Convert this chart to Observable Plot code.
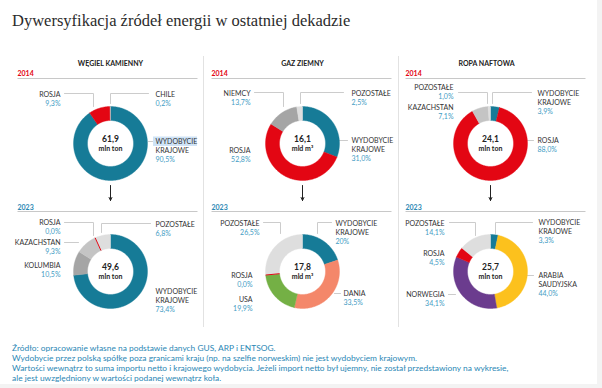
<!DOCTYPE html>
<html><head><meta charset="utf-8">
<script src="https://cdn.jsdelivr.net/npm/d3@7"></script>
<script src="https://cdn.jsdelivr.net/npm/@observablehq/plot@0.6"></script>
<style>
html,body{margin:0;padding:0;background:#f3f3f3;}
#page{position:relative;width:597px;height:384px;background:#fff;overflow:hidden;font-family:Lato,sans-serif;}
#title{position:absolute;left:12px;top:11px;font-family:"Liberation Serif",serif;font-size:16.5px;line-height:20px;color:#2b2b2b;white-space:nowrap;}
#chart{position:absolute;left:0;top:50px;}
#footer{position:absolute;left:12px;top:343px;font-size:8.4px;line-height:10px;color:#2a87b5;white-space:nowrap;}
</style></head><body>
<div id="page"><div id="title"></div><div id="chart"></div><div id="footer"></div></div>
<script>
// ---------- DATA ----------
const titleText = "Dywersyfikacja źródeł energii w ostatniej dekadzie";
const sections = ["WĘGIEL KAMIENNY", "GAZ ZIEMNY", "ROPA NAFTOWA"];
const years = ["2014", "2023"];
const totals2014 = [61.9, 16.1, 24.1];
const totals2023 = [49.6, 17.8, 25.7];
const units = ["mln ton", "mld m³", "mln ton"];

const coal2014Sources = ["WYDOBYCIE KRAJOWE", "ROSJA", "CHILE"];
const coal2014Shares = [90.5, 9.3, 0.2];
const coal2023Sources = ["WYDOBYCIE KRAJOWE", "KOLUMBIA", "KAZACHSTAN", "ROSJA", "POZOSTAŁE"];
const coal2023Shares = [73.4, 10.5, 9.3, 0.0, 6.8];

const gas2014Sources = ["WYDOBYCIE KRAJOWE", "ROSJA", "NIEMCY", "POZOSTAŁE"];
const gas2014Shares = [31.0, 52.8, 13.7, 2.5];
const gas2023Sources = ["WYDOBYCIE KRAJOWE", "DANIA", "USA", "ROSJA", "POZOSTAŁE"];
const gas2023Shares = [20, 33.5, 19.9, 0.0, 26.5];
const gas2023Decimals = [0, 1, 1, 1, 1];

const oil2014Sources = ["WYDOBYCIE KRAJOWE", "ROSJA", "KAZACHSTAN", "POZOSTAŁE"];
const oil2014Shares = [3.9, 88.0, 7.1, 1.0];
const oil2023Sources = ["WYDOBYCIE KRAJOWE", "ARABIA SAUDYJSKA", "NORWEGIA", "ROSJA", "POZOSTAŁE"];
const oil2023Shares = [3.3, 44.0, 34.1, 4.5, 14.1];

const footnotes = [
  "Źródło: opracowanie własne na podstawie danych GUS, ARP i ENTSOG.",
  "Wydobycie przez polską spółkę poza granicami kraju (np. na szelfie norweskim) nie jest wydobyciem krajowym.",
  "Wartości wewnątrz to suma importu netto i krajowego wydobycia. Jeżeli import netto był ujemny, nie został przedstawiony na wykresie,",
  "ale jest uwzględniony w wartości podanej wewnątrz koła."
];

// ---------- STYLE / LAYOUT ----------
const colors = {
  "WYDOBYCIE KRAJOWE": "#167b97", "ROSJA": "#e30613", "CHILE": "#c4c4c4",
  "KOLUMBIA": "#a5a5a5", "KAZACHSTAN": "#c4c4c4", "POZOSTAŁE": "#dedede",
  "NIEMCY": "#a5a5a5", "DANIA": "#f4876a", "USA": "#74b045",
  "ARABIA SAUDYJSKA": "#fcc11d", "NORWEGIA": "#6b3c8e"
};
const W = 597;
const panelLeft = [17, 211, 405];
const panelWidth = 180;
const headerX = [110, 302, 486];
const centerX = [110, 302, 490];
const centerY = [143, 271];
const yearY = [73, 207];
const yearRuleY = [78, 211];
const yearColors = ["#e30613", "#2b88b4"];
const R = 37, R0 = 23;
const pctColor = "#3f9cc4", inkColor = "#333333", leaderColor = "#cccccc";
const lineGap = 9.3;

// label layout: [anchor, dx, dy, leader points relative to center]
const labelLayout = {
  "0-0": {
    "WYDOBYCIE KRAJOWE": ["start", 45, -2, [[38, -2], [42, -2]]],
    "ROSJA": ["end", -50, -49, [[-46, -50], [-17, -50], [-17, -37]]],
    "CHILE": ["start", 45, -49, [[38, -50], [0, -50], [0, -40]]]
  },
  "0-1": {
    "WYDOBYCIE KRAJOWE": ["start", 45, 20, null],
    "KOLUMBIA": ["end", -50, -6, null],
    "KAZACHSTAN": ["end", -50, -29, [[-46, -29], [-32, -29]]],
    "ROSJA": ["end", -50, -49, [[-46, -49], [-17, -49], [-17, -36]]],
    "POZOSTAŁE": ["start", 45, -47, [[40, -48], [-9, -48], [-9, -39]]]
  },
  "1-0": {
    "WYDOBYCIE KRAJOWE": ["start", 49, -3, [[37, -3], [45, -3]]],
    "ROSJA": ["end", -52, 7, null],
    "NIEMCY": ["end", -52, -50, [[-48, -51], [-19, -51], [-19, -37]]],
    "POZOSTAŁE": ["start", 49, -50, [[41, -51], [-2, -51], [-2, -40]]]
  },
  "1-1": {
    "WYDOBYCIE KRAJOWE": ["start", 33, -48, [[29, -49], [15, -49], [15, -38]]],
    "DANIA": ["start", 41, 22, [[32, 22], [38, 22]]],
    "USA": ["end", -50, 28, null],
    "ROSJA": ["end", -50, 4, null],
    "POZOSTAŁE": ["end", -43, -48, [[-39, -49], [-22, -49], [-22, -38]]]
  },
  "2-0": {
    "WYDOBYCIE KRAJOWE": ["start", 47, -50, [[41, -51], [2, -51], [2, -40]]],
    "ROSJA": ["start", 47, -3, [[37, -3], [43, -3]]],
    "KAZACHSTAN": ["end", -37, -36, null],
    "POZOSTAŁE": ["end", -37, -56, [[-32, -51], [-3, -51], [-3, -40]]]
  },
  "2-1": {
    "WYDOBYCIE KRAJOWE": ["start", 48, -49, [[42, -49], [5, -49], [5, -38]]],
    "ARABIA SAUDYJSKA": ["start", 48, 4, [[37, 4], [43, 4]]],
    "NORWEGIA": ["end", -46, 23, [[-42, 23], [-35, 23]]],
    "ROSJA": ["end", -46, -18, null],
    "POZOSTAŁE": ["end", -46, -48, [[-41, -49], [-15, -49], [-15, -36]]]
  }
};

// ---------- BUILD ----------
const donuts = [
  {p: 0, y: 0, sources: coal2014Sources, shares: coal2014Shares, total: totals2014[0]},
  {p: 0, y: 1, sources: coal2023Sources, shares: coal2023Shares, total: totals2023[0]},
  {p: 1, y: 0, sources: gas2014Sources, shares: gas2014Shares, total: totals2014[1]},
  {p: 1, y: 1, sources: gas2023Sources, shares: gas2023Shares, total: totals2023[1], decimals: gas2023Decimals},
  {p: 2, y: 0, sources: oil2014Sources, shares: oil2014Shares, total: totals2014[2]},
  {p: 2, y: 1, sources: oil2023Sources, shares: oil2023Shares, total: totals2023[2]}
];

const fmt = (v, d = 1) => v.toFixed(d).replace(".", ",");
const slicePts = [], zeroSlices = [], leaders = [], labelRows = [], centerRows = [];

donuts.forEach(dn => {
  const cx = centerX[dn.p], cy = centerY[dn.y];
  const key = dn.p + "-" + dn.y;
  const sum = d3.sum(dn.shares);
  let cum = 0;
  dn.sources.forEach((s, i) => {
    const a0 = cum / sum * 2 * Math.PI;
    cum += dn.shares[i];
    const a1 = cum / sum * 2 * Math.PI;
    const id = key + "-" + i;
    const color = colors[s];
    if (dn.shares[i] === 0) {
      zeroSlices.push({x1: cx + R0 * Math.sin(a0), y1: cy - R0 * Math.cos(a0),
                       x2: cx + R * Math.sin(a0), y2: cy - R * Math.cos(a0), color});
    } else {
      const n = Math.max(2, Math.ceil((a1 - a0) / (Math.PI / 180)));
      const ring = [];
      for (let k = 0; k <= n; k++) {
        const a = a0 + (a1 - a0) * k / n;
        ring.push({id, color, x: cx + R * Math.sin(a), y: cy - R * Math.cos(a)});
      }
      for (let k = n; k >= 0; k--) {
        const a = a0 + (a1 - a0) * k / n;
        ring.push({id, color, x: cx + R0 * Math.sin(a), y: cy - R0 * Math.cos(a)});
      }
      ring.push({...ring[0]});
      slicePts.push(...ring);
    }
    const [anchor, dx, dy, lead] = labelLayout[key][s];
    const words = s.split(" ");
    words.forEach((w, j) => labelRows.push({x: cx + dx, y: cy + dy + j * lineGap, text: w, anchor, kind: "name"}));
    const dec = dn.decimals ? dn.decimals[i] : 1;
    labelRows.push({x: cx + dx, y: cy + dy + words.length * lineGap, text: fmt(dn.shares[i], dec) + "%", anchor, kind: "pct"});
    if (lead) lead.forEach(([lx, ly]) => leaders.push({id, x: cx + lx, y: cy + ly}));
  });
  centerRows.push({x: cx, y: cy - 4, text: fmt(dn.total), size: 8.5});
  centerRows.push({x: cx, y: cy + 5, text: units[dn.p], size: 7});
});

const headerRows = sections.map((s, i) => ({x: headerX[i], y: 63, text: s}));
const yearRows = [], yearRules = [];
years.forEach((yr, yi) => panelLeft.forEach(px => {
  yearRows.push({x: px, y: yearY[yi], text: yr, color: yearColors[yi]});
  yearRules.push({x1: px, x2: px + panelWidth, y: yearRuleY[yi]});
}));
const arrows = centerX.map(cx => ({x: cx, y1: 185, y2: 200}));
const separators = [203, 398];

const textBase = {fontFamily: "Lato, sans-serif", lineAnchor: "middle"};
const labelMark = (anchor, kind) => Plot.text(labelRows.filter(d => d.anchor === anchor && d.kind === kind), {
  ...textBase, x: "x", y: "y", text: "text", textAnchor: anchor,
  fill: kind === "pct" ? pctColor : inkColor, fontSize: 7
});

const chart = Plot.plot({
  width: W, height: 280, margin: 0,
  x: {domain: [0, W], range: [0, W], axis: null},
  y: {domain: [50, 330], range: [0, 280], axis: null},
  color: {type: "identity"},
  style: {background: "transparent", fontFamily: "Lato, sans-serif"},
  marks: [
    Plot.ruleX(separators, {x: d => d, y1: 56, y2: 327, stroke: "#e2e2e2", strokeWidth: 1}),
    Plot.link(yearRules, {x1: "x1", x2: "x2", y1: "y", y2: "y", stroke: "#c8c8c8", strokeWidth: 1}),
    Plot.text(headerRows, {...textBase, x: "x", y: "y", text: "text", fill: "#222", fontWeight: 700, fontSize: 7}),
    Plot.text(yearRows, {...textBase, x: "x", y: "y", text: "text", fill: "color", fontWeight: 700, fontSize: 7, textAnchor: "start"}),
    Plot.rect([{x1: 153, x2: 197, y1: 136.5, y2: 146}], {x1: "x1", x2: "x2", y1: "y1", y2: "y2", fill: "#cfe3f6"}),
    Plot.line(leaders, {x: "x", y: "y", z: "id", stroke: leaderColor, strokeWidth: 1, curve: "linear"}),
    Plot.line(slicePts, {x: "x", y: "y", z: "id", fill: "color", stroke: "color", strokeWidth: 0.4, curve: "linear"}),
    Plot.link(zeroSlices, {x1: "x1", y1: "y1", x2: "x2", y2: "y2", stroke: "color", strokeWidth: 1}),
    labelMark("start", "name"), labelMark("end", "name"),
    labelMark("start", "pct"), labelMark("end", "pct"),
    Plot.text(centerRows, {...textBase, x: "x", y: "y", text: "text", fill: "#222", fontWeight: 700, fontSize: d => d.size}),
    Plot.arrow(arrows, {x1: "x", x2: "x", y1: "y1", y2: "y2", stroke: "#222", strokeWidth: 1, headLength: 5, headAngle: 50})
  ]
});

document.getElementById("chart").appendChild(chart);
document.getElementById("title").textContent = titleText;
document.getElementById("footer").innerHTML = footnotes.map(t => `<div>${t}</div>`).join("");
</script>
</body></html>
